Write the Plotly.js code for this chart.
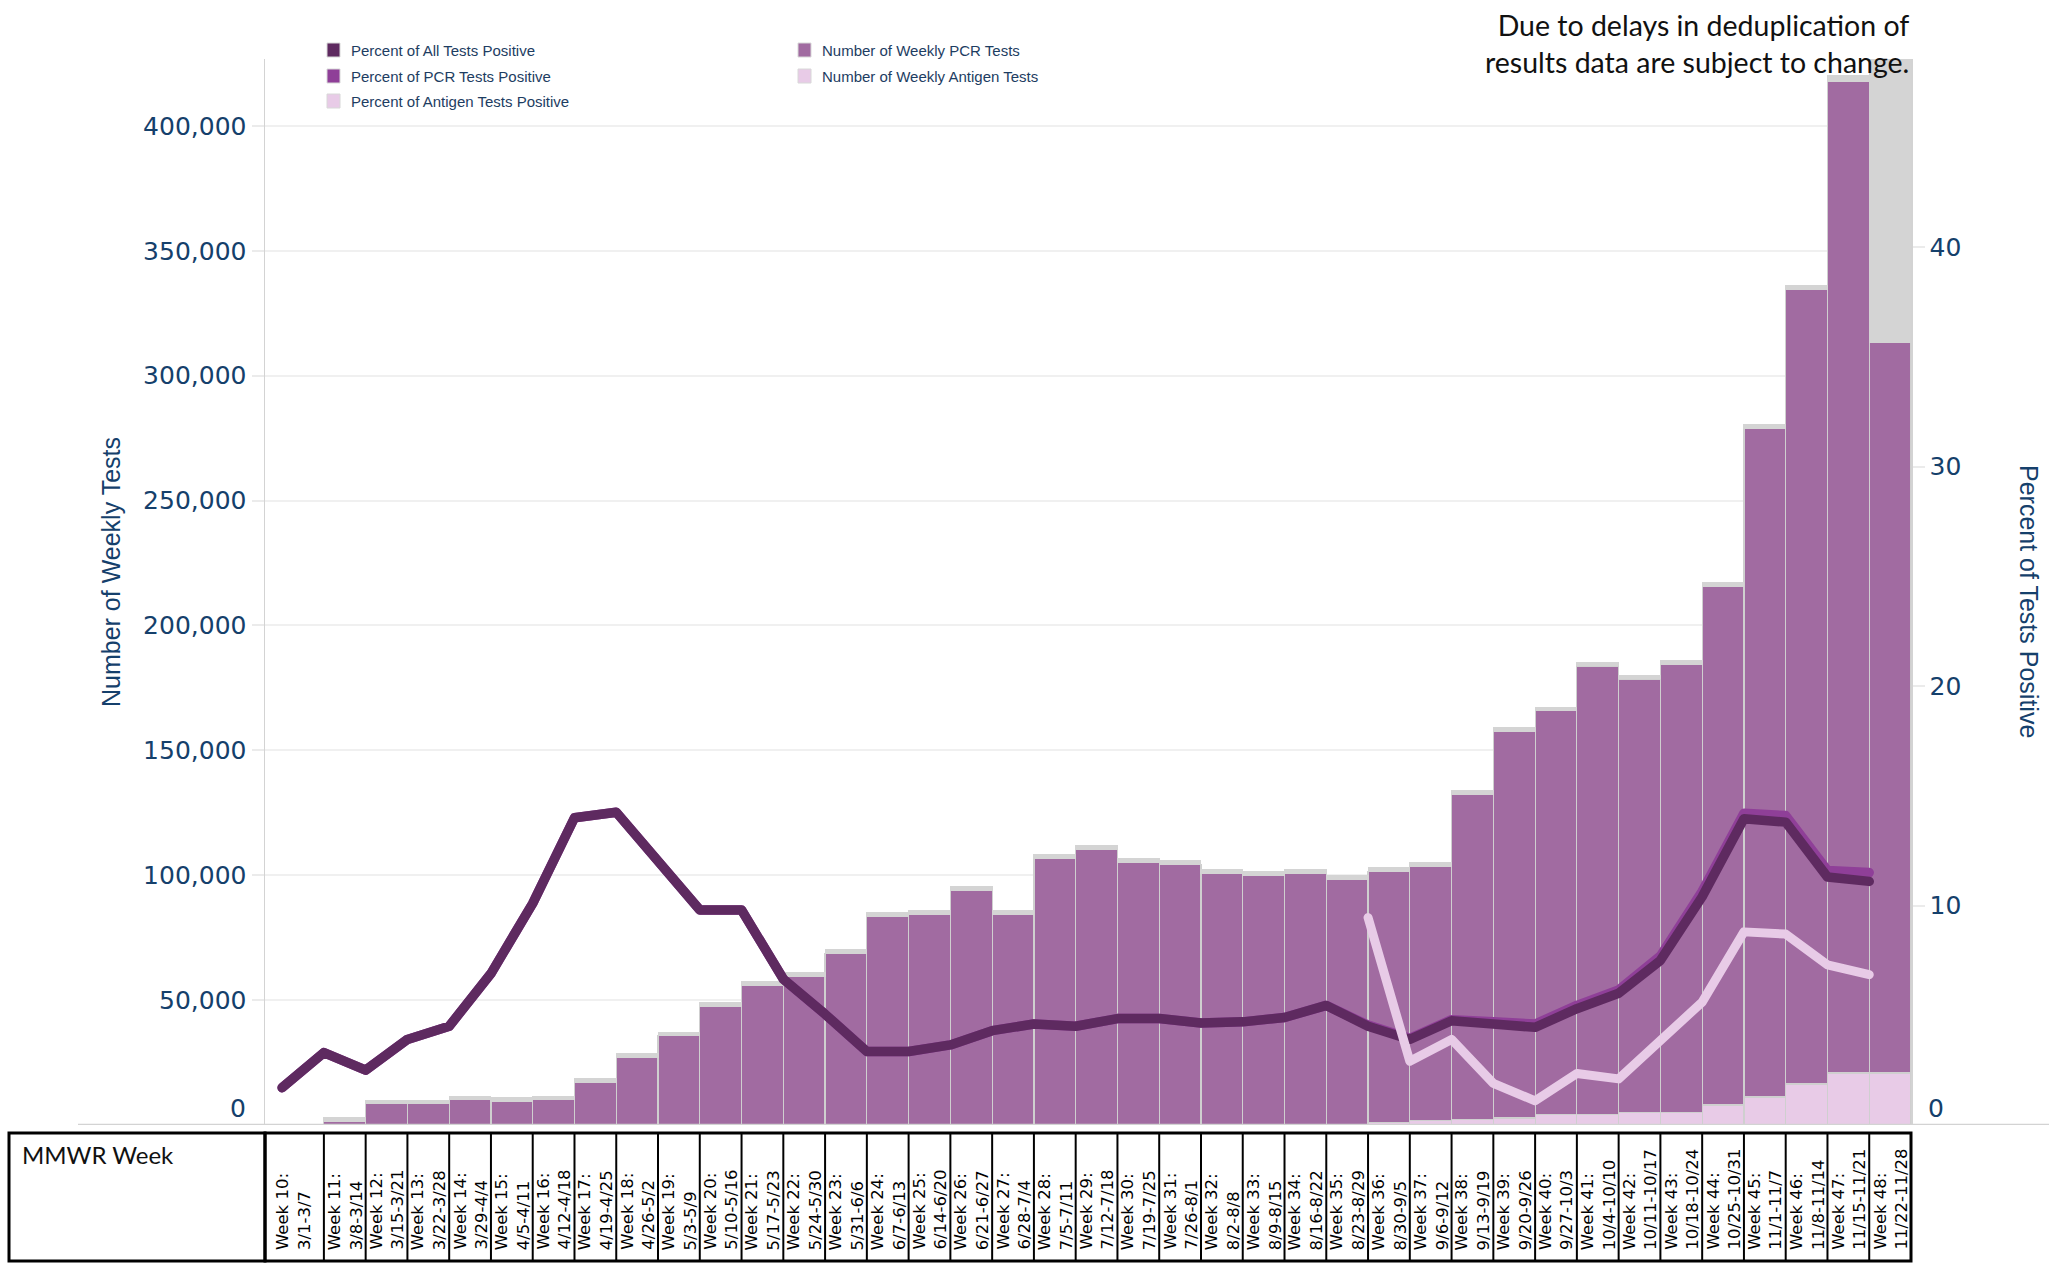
<!DOCTYPE html>
<html><head><meta charset="utf-8">
<script src="https://cdn.plot.ly/plotly-3.0.1.min.js"></script>
<style>
html,body{margin:0;padding:0;background:#fff}
#chart{width:2049px;height:1265px}
.scatterlayer .js-line{stroke-linecap:round;stroke-linejoin:round}
</style>
</head><body><div id="chart"></div>
<script>
// ---------- data ----------
const weeks = [10,11,12,13,14,15,16,17,18,19,20,21,22,23,24,25,26,27,28,29,30,31,32,33,34,35,36,37,38,39,40,41,42,43,44,45,46,47,48];
const weekRanges = ["3/1-3/7","3/8-3/14","3/15-3/21","3/22-3/28","3/29-4/4","4/5-4/11","4/12-4/18","4/19-4/25","4/26-5/2","5/3-5/9","5/10-5/16","5/17-5/23","5/24-5/30","5/31-6/6","6/7-6/13","6/14-6/20","6/21-6/27","6/28-7/4","7/5-7/11","7/12-7/18","7/19-7/25","7/26-8/1","8/2-8/8","8/9-8/15","8/16-8/22","8/23-8/29","8/30-9/5","9/6-9/12","9/13-9/19","9/20-9/26","9/27-10/3","10/4-10/10","10/11-10/17","10/18-10/24","10/25-10/31","11/1-11/7","11/8-11/14","11/15-11/21","11/22-11/28"];
const antigenTests = [0,0,0,0,0,0,0,0,0,0,0,0,0,0,0,0,0,0,0,0,0,0,0,0,0,0,1100,1700,2300,2800,4200,4200,4900,4900,8000,11200,16400,20800,20800];
const pcrTests = [0,1600,8600,8600,10200,9500,10200,17200,27100,35700,47600,56000,59500,68800,83500,84300,93800,84300,106800,110300,105200,104300,100800,100000,100800,98400,100500,101800,130200,154700,161600,179600,173700,179500,207500,267800,318200,397000,292400];
const totalTests = [0,3200,10000,10000,11600,10900,11600,18600,28600,37200,49100,57500,61000,70300,85000,85800,95300,85800,108300,111800,106700,105800,102200,101400,102200,99900,103100,105000,134000,159000,167300,185300,180100,185900,217200,280500,336100,420000,426800];
const pctAllPositive = [1.7,3.3,2.5,3.9,4.5,6.9,10.1,14.0,14.25,12.1,9.8,9.8,6.65,5.05,3.35,3.35,3.65,4.3,4.6,4.5,4.85,4.85,4.65,4.7,4.9,5.45,4.5,3.9,4.75,4.6,4.45,5.3,6.0,7.5,10.4,13.95,13.8,11.3,11.1];
const pctPcrPositive = [1.7,3.3,2.5,3.9,4.5,6.9,10.1,14.0,14.25,12.1,9.8,9.8,6.65,5.05,3.35,3.35,3.65,4.3,4.6,4.5,4.85,4.85,4.65,4.7,4.9,5.45,4.55,3.95,4.8,4.7,4.6,5.45,6.15,7.7,10.65,14.2,14.1,11.6,11.5];
const pctAntigenPositive = [null,null,null,null,null,null,null,null,null,null,null,null,null,null,null,null,null,null,null,null,null,null,null,null,null,null,9.45,2.9,3.9,1.9,1.1,2.35,2.1,3.8,5.6,8.8,8.7,7.3,6.85];
const leftTickVals = [50000,100000,150000,200000,250000,300000,350000,400000];
const rightTickVals = [10,20,30,40];
const legendItems = [
  {label:"Percent of All Tests Positive", color:"#5e2a60", col:0, row:0},
  {label:"Percent of PCR Tests Positive", color:"#8f3f98", col:0, row:1},
  {label:"Percent of Antigen Tests Positive", color:"#e8cbe7", col:0, row:2},
  {label:"Number of Weekly PCR Tests", color:"#a16ba1", col:1, row:0},
  {label:"Number of Weekly Antigen Tests", color:"#e8cbe7", col:1, row:1}
];
const noteText = "Due to delays in deduplication of<br>results data are subject to change.";

// ---------- geometry helpers ----------
const L = 265, R = 1911, T = 59, B = 1125;
const px = x => (x - L) / (R - L);
const py = y => (B - y) / (B - T);
const navy = "#15406b";
const leftMax = 426800;
const rightMax = leftMax / 8787;

const greyRemainder = totalTests.map((t, i) => Math.max(0, t - pcrTests[i] - antigenTests[i]));

const barLine = {color: "#cfcfcf", width: 1.2};
const traces = [
  {type:"bar", x:weeks, y:antigenTests, offset:0, width:1, marker:{color:"#e8cbe7", line:barLine}, yaxis:"y", hoverinfo:"skip", showlegend:false},
  {type:"bar", x:weeks, y:pcrTests, offset:0, width:1, marker:{color:"#a16ba1", line:barLine}, yaxis:"y", hoverinfo:"skip", showlegend:false},
  {type:"bar", x:weeks, y:greyRemainder, offset:0, width:1, marker:{color:"#d4d4d4", line:{color:"#d4d4d4", width:1}}, yaxis:"y", hoverinfo:"skip", showlegend:false},
  {type:"scatter", mode:"lines", x:weeks, y:pctPcrPositive, line:{color:"#8f3f98", width:9.5}, yaxis:"y2", showlegend:false},
  {type:"scatter", mode:"lines", x:weeks, y:pctAllPositive, line:{color:"#5e2a60", width:9.5}, yaxis:"y2", showlegend:false},
  {type:"scatter", mode:"lines", x:weeks, y:pctAntigenPositive, line:{color:"#e8cbe7", width:9}, yaxis:"y2", connectgaps:false, showlegend:false}
];

const shapes = [];
const annotations = [];

// baseline
shapes.push({type:"line", xref:"paper", yref:"y", x0:px(78), x1:px(2049), y0:0, y1:0, line:{color:"#d3d3d3", width:2.5}, layer:"above"});

// table
const tTop = py(1133), tBot = py(1261);
shapes.push({type:"rect", xref:"paper", yref:"paper", x0:px(9), x1:0, y0:tBot, y1:tTop, line:{color:"#000", width:3}});
shapes.push({type:"rect", xref:"paper", yref:"paper", x0:0, x1:1, y0:tBot, y1:tTop, line:{color:"#000", width:3}});
weeks.slice(1).forEach(w => {
  shapes.push({type:"line", xref:"x", yref:"paper", x0:w, x1:w, y0:tBot, y1:tTop, line:{color:"#000", width:2}});
});
annotations.push({xref:"paper", yref:"paper", x:px(20), y:py(1154), xanchor:"left", yanchor:"middle", text:"MMWR Week", showarrow:false, font:{family:"Lato, 'Open Sans', sans-serif", size:24, color:"#111"}});
weeks.forEach((w, i) => {
  annotations.push({xref:"x", yref:"paper", x: i === 0 ? 10.25 : w + 0.5, y:py(1252), xanchor:"center", yanchor:"bottom",
    textangle:-90, align:"left", showarrow:false, text:"Week " + w + ":<br>" + weekRanges[i],
    font:{family:"'DejaVu Sans', sans-serif", size:16.5, color:"#000"}});
});

// legend
legendItems.forEach(it => {
  const sx = it.col === 0 ? 327 : 798;
  const cy = [50, 76, 101][it.row];
  shapes.push({type:"rect", xref:"paper", yref:"paper", x0:px(sx), x1:px(sx+13), y0:py(cy+7), y1:py(cy-7), fillcolor:it.color, line:{color:"#d8d8d8", width:1}});
  annotations.push({xref:"paper", yref:"paper", x:px(sx+22), y:py(cy), xanchor:"left", yanchor:"middle", text:it.label, showarrow:false,
    font:{family:"'Liberation Sans', Arial, sans-serif", size:15, color:"#1d3d62"}});
});

// note
annotations.push({xref:"paper", yref:"paper", x:1, y:py(43), xanchor:"right", yanchor:"middle", align:"right", text:noteText, showarrow:false,
  font:{family:"Lato, 'Open Sans', sans-serif", size:28.5, color:"#111"}});

// axis titles
annotations.push({xref:"paper", yref:"paper", x:px(111), y:py(572), xanchor:"center", yanchor:"middle", textangle:-90, text:"Number of Weekly Tests", showarrow:false,
  font:{family:"'Liberation Sans', Arial, sans-serif", size:25, color:navy}});
annotations.push({xref:"paper", yref:"paper", x:px(2029), y:py(601), xanchor:"center", yanchor:"middle", textangle:90, text:"Percent of Tests Positive", showarrow:false,
  font:{family:"'Liberation Sans', Arial, sans-serif", size:25, color:navy}});

// zero tick labels (drawn slightly above the baseline)
const tickFont = {family:"'DejaVu Sans', sans-serif", size:25, color:navy};
annotations.push({xref:"paper", yref:"paper", x:px(248), y:py(1108), xanchor:"right", yanchor:"middle", text:"0", showarrow:false, font:tickFont});
annotations.push({xref:"paper", yref:"paper", x:px(1926), y:py(1108), xanchor:"left", yanchor:"middle", text:"0", showarrow:false, font:tickFont});

const layout = {
  width:2049, height:1265,
  margin:{l:L, r:2049-R, t:T, b:1265-B, pad:0},
  paper_bgcolor:"#fff", plot_bgcolor:"#fff",
  barmode:"stack", bargap:0,
  showlegend:false,
  xaxis:{range:[9.59, 49], showticklabels:false, showgrid:false, zeroline:false, showline:false, ticks:""},
  yaxis:{range:[0, leftMax], tickvals:leftTickVals, tickformat:",", showgrid:true, gridcolor:"#f0f0f0", gridwidth:2,
    zeroline:false, showline:true, linecolor:"#d3d3d3", linewidth:1.5, ticks:"outside", ticklen:12, tickcolor:"#ebebeb", tickwidth:2,
    tickfont:tickFont},
  yaxis2:{overlaying:"y", side:"right", range:[0, rightMax], tickvals:rightTickVals, showgrid:false, zeroline:false,
    showline:true, linecolor:"#d3d3d3", linewidth:1.5, ticks:"outside", ticklen:12, tickcolor:"#ebebeb", tickwidth:2, tickfont:tickFont},
  shapes:shapes,
  annotations:annotations
};

Plotly.newPlot("chart", traces, layout, {displayModeBar:false, staticPlot:true});
</script>
</body></html>
